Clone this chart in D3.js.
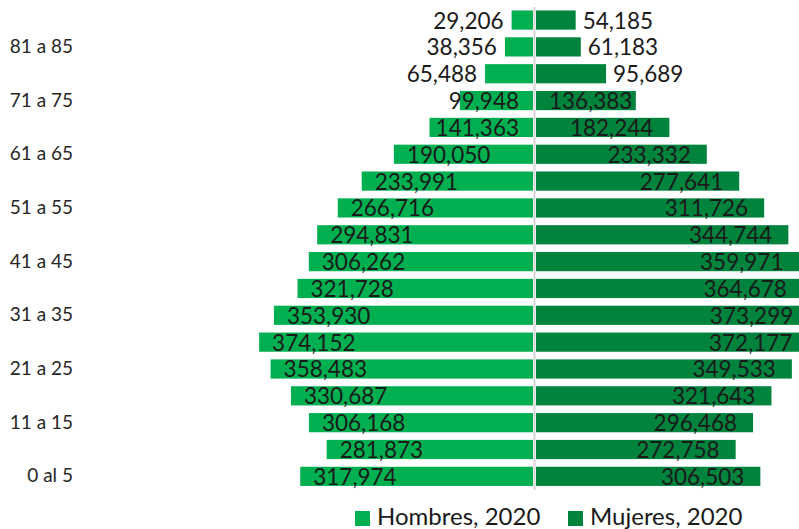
<!DOCTYPE html>
<html>
<head>
 <meta charset="utf-8"/>
 <script src="https://d3js.org/d3.v7.min.js"></script>
 <style>
  body { margin:0; background:#fff; }
  svg text { font-family: Lato, "Open Sans", sans-serif; fill:#1a1a1a; }
 </style>
</head>
<body>
 <div id="graph"></div>
 <script type="text/javascript">
   // grupos de edad (de abajo hacia arriba)
   var edades = ["0 al 5","6 a 10","11 a 15","16 a 20","21 a 25","26 a 30","31 a 35","36 a 40","41 a 45",
                 "46 a 50","51 a 55","56 a 60","61 a 65","66 a 70","71 a 75","76 a 80","81 a 85","86 y más"];
   var hombres = [317974,281873,306168,330687,358483,374152,353930,321728,306262,
                  294831,266716,233991,190050,141363,99948,65488,38356,29206];
   var mujeres = [306503,272758,296468,321643,349533,372177,373299,364678,359971,
                  344744,311726,277641,233332,182244,136383,95689,61183,54185];
   var etiquetasEje = ["0 al 5","11 a 15","21 a 25","31 a 35","41 a 45","51 a 55","61 a 65","71 a 75","81 a 85"];
   var series = ["Hombres, 2020","Mujeres, 2020"];
   var colores = ["#00b050","#00843d"];

   var width = 799, height = 529;
   var centro = 534.5;
   var svg = d3.select("#graph").append("svg")
               .attr("width", width).attr("height", height);

   var yScale = d3.scaleBand().domain(edades).range([489.7, 6.7]).paddingInner(0.285).paddingOuter(0.14);
   var xH = d3.scaleLinear().domain([0, 400000]).range([centro - 1.5, centro - 1.5 - 292.8]);
   var xM = d3.scaleLinear().domain([0, 400000]).range([centro + 1.5, centro + 1.5 + 292.8]);

   var data = edades.map(function(e, i){ return {edad:e, h:hombres[i], m:mujeres[i]}; });

   // barras hombres
   svg.append("g").selectAll("rect").data(data).enter().append("rect")
      .attr("x", function(d){ return xH(d.h); })
      .attr("y", function(d){ return yScale(d.edad); })
      .attr("width", function(d){ return xH(0) - xH(d.h); })
      .attr("height", yScale.bandwidth())
      .style("fill", colores[0]);
   // barras mujeres
   svg.append("g").selectAll("rect").data(data).enter().append("rect")
      .attr("x", xM(0))
      .attr("y", function(d){ return yScale(d.edad); })
      .attr("width", function(d){ return xM(d.m) - xM(0); })
      .attr("height", yScale.bandwidth())
      .style("fill", colores[1]);

   // linea central
   svg.append("line")
      .attr("x1", centro).attr("x2", centro)
      .attr("y1", 7).attr("y2", 490)
      .style("stroke", "#d4d4d4").style("stroke-width", 2);

   var fmt = d3.format(",");
   var cy = function(d){ return yScale(d.edad) + yScale.bandwidth()/2 + 8.5; };

   // etiquetas hombres
   svg.append("g").selectAll("text").data(data).enter().append("text")
      .attr("y", cy)
      .style("font-size", "22.5px")
      .text(function(d){ return fmt(d.h); })
      .each(function(d){
        var t = d3.select(this), w = this.getComputedTextLength();
        var izq = xH(d.h), ancho = xH(0) - izq;
        if (ancho < 60) {
          t.attr("x", izq - 8).attr("text-anchor", "end");
        } else {
          t.attr("x", Math.min(izq + 13, xH(0) - 14 - w)).attr("text-anchor", "start");
        }
      });
   // etiquetas mujeres
   svg.append("g").selectAll("text").data(data).enter().append("text")
      .attr("y", cy)
      .style("font-size", "22.5px")
      .text(function(d){ return fmt(d.m); })
      .each(function(d){
        var t = d3.select(this), w = this.getComputedTextLength();
        var der = xM(d.m), ancho = der - xM(0);
        if (ancho < 80) {
          t.attr("x", der + 7).attr("text-anchor", "start");
        } else {
          t.attr("x", Math.max(der - 16, xM(0) + 13 + w)).attr("text-anchor", "end");
        }
      });

   // eje de edades
   var yAxis = d3.axisLeft(yScale).tickValues(etiquetasEje).tickSize(0).tickPadding(0);
   var gAxis = svg.append("g").attr("transform", "translate(73,0)").call(yAxis);
   gAxis.select(".domain").remove();
   gAxis.selectAll("text")
        .attr("dy", null).attr("y", 6)
        .style("font-size", "19px").style("font-family", "Lato, sans-serif").style("fill", "#262626");

   // leyenda
   var leyX = [355, 568];
   var leg = svg.append("g").selectAll("g").data(series).enter().append("g")
                .attr("transform", function(d, i){ return "translate(" + leyX[i] + ",0)"; });
   leg.append("rect").attr("x", 0).attr("y", 511).attr("width", 15).attr("height", 15)
      .style("fill", function(d, i){ return colores[i]; });
   leg.append("text").attr("x", 22).attr("y", 524.5)
      .style("font-size", "24px")
      .text(function(d){ return d; });
 </script>
</body>
</html>
